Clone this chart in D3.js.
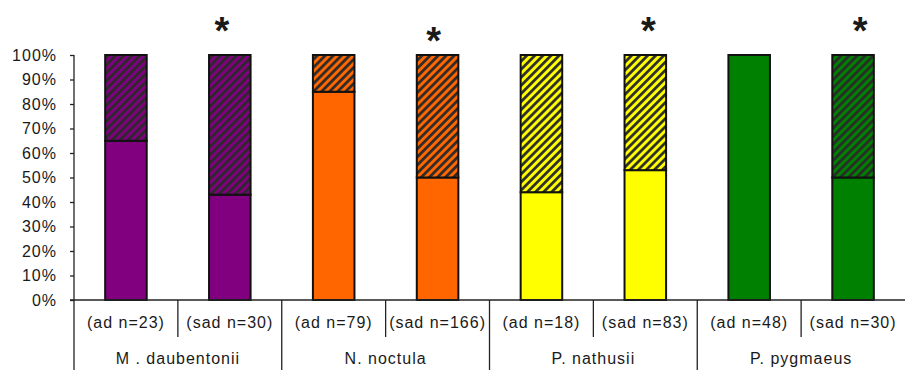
<!DOCTYPE html>
<html>
<head>
<meta charset="utf-8">
<script src="https://cdn.jsdelivr.net/npm/d3@7"></script>
<style>
  body { margin: 0; background: #fff; }
  svg text { font-family: "Liberation Sans", Arial, sans-serif; fill: #1a1a1a; }
</style>
</head>
<body>
<div id="chart"></div>
<script>
// values
var species = ["M . daubentonii", "N. noctula", "P. nathusii", "P. pygmaeus"];
var barLabels = ["(ad n=23)", "(sad n=30)", "(ad n=79)", "(sad n=166)",
                 "(ad n=18)", "(sad n=83)", "(ad n=48)", "(sad n=30)"];
var solidPct = [65, 43, 85, 50, 44, 53, 100, 50];
var hatchPct = [35, 57, 15, 50, 56, 47, 0, 50];
var speciesColors = ["#800080", "#ff6600", "#ffff00", "#008000"];
var significant = [false, true, false, true, false, true, false, true];
var yTicks = [0, 10, 20, 30, 40, 50, 60, 70, 80, 90, 100];

var W = 905, H = 370;
var margin = {top: 55, right: 0, bottom: 70, left: 74};

var svg = d3.select("#chart").append("svg")
  .attr("width", W).attr("height", H);

// band domain uses the bar index, two labels are the same text
var x = d3.scaleBand().domain(d3.range(barLabels.length)).range([margin.left, W]).padding(0);
var y = d3.scaleLinear().domain([0, 100]).range([H - margin.bottom, margin.top]);
var barW = x.bandwidth() * 0.4;

var rows = barLabels.map(function(l, i) {
  return {label: l, i: i, solid: solidPct[i], hatch: hatchPct[i], color: speciesColors[Math.floor(i / 2)]};
});

// hatch patterns, one per species colour
var defs = svg.append("defs");
speciesColors.forEach(function(c, k) {
  var p = defs.append("pattern")
    .attr("id", "hatch" + k)
    .attr("patternUnits", "userSpaceOnUse")
    .attr("width", 5.7).attr("height", 5.7)
    .attr("patternTransform", "rotate(45)");
  p.append("rect").attr("width", 5.7).attr("height", 5.7).attr("fill", c);
  p.append("line").attr("x1", 1.4).attr("x2", 1.4).attr("y1", 0).attr("y2", 5.7)
    .attr("stroke", "#2a2a2a").attr("stroke-width", 2.7);
});

// stacked bars
var stack = d3.stack().keys(["solid", "hatch"]);
var series = stack(rows);

var layers = svg.selectAll("g.layer").data(series).enter()
  .append("g").attr("class", "layer");

layers.selectAll("rect")
  .data(function(s) { return s.map(function(d) { d.key = s.key; return d; }); })
  .enter().append("rect")
  .filter(function(d) { return d[1] - d[0] > 0; })
  .attr("x", function(d) { return x(d.data.i) + (x.bandwidth() - barW) / 2; })
  .attr("y", function(d) { return y(d[1]); })
  .attr("width", barW)
  .attr("height", function(d) { return y(d[0]) - y(d[1]); })
  .attr("fill", function(d) {
    return d.key == "solid" ? d.data.color : "url(#hatch" + Math.floor(d.data.i / 2) + ")";
  })
  .attr("stroke", "#111")
  .attr("stroke-width", 2);

// y axis
var yAxis = svg.append("g")
  .attr("transform", "translate(" + margin.left + ",0)")
  .call(d3.axisLeft(y).tickValues(yTicks).tickSize(4).tickPadding(13)
        .tickFormat(function(d) { return d + "%"; }));
yAxis.select(".domain").remove();
yAxis.selectAll(".tick line").attr("stroke", "#222").attr("stroke-width", 1.3);
yAxis.selectAll("text").style("font-size", "16px").style("letter-spacing", "1px").attr("fill", "#1a1a1a");

// axis lines
var base = y(0);
svg.append("line").attr("x1", margin.left).attr("x2", margin.left)
  .attr("y1", margin.top).attr("y2", H).attr("stroke", "#222").attr("stroke-width", 1.3);
svg.append("line").attr("x1", margin.left - 4).attr("x2", W)
  .attr("y1", base).attr("y2", base).attr("stroke", "#222").attr("stroke-width", 1.3);

// category separators
barLabels.forEach(function(l, i) {
  if (i == 0) return;
  var xx = x(i);
  svg.append("line").attr("x1", xx).attr("x2", xx)
    .attr("y1", base).attr("y2", i % 2 == 0 ? H : base + 37)
    .attr("stroke", "#222").attr("stroke-width", 1.3);
});

// bar labels
svg.selectAll("text.bar-label").data(barLabels).enter()
  .append("text").attr("class", "bar-label")
  .attr("x", function(d, i) { return x(i) + x.bandwidth() / 2; })
  .attr("y", base + 28)
  .attr("text-anchor", "middle")
  .style("font-size", "16px").style("letter-spacing", "1px")
  .text(function(d) { return d; });

// species labels
svg.selectAll("text.species").data(species).enter()
  .append("text").attr("class", "species")
  .attr("x", function(d, k) { return x(k * 2 + 1); })
  .attr("y", base + 64)
  .attr("text-anchor", "middle")
  .style("font-size", "16px").style("letter-spacing", "1px")
  .text(function(d) { return d; });

// asterisks (hand-placed text boxes in the original)
var starShift = [[0, 0], [-8, 0], [0, 0], [-4, 10], [0, 0], [3, 0], [0, 0], [7, 0]];
rows.filter(function(d) { return significant[d.i]; }).forEach(function(d) {
  svg.append("text")
    .attr("x", x(d.i) + x.bandwidth() / 2 + starShift[d.i][0])
    .attr("y", 44 + starShift[d.i][1])
    .attr("text-anchor", "middle")
    .style("font-size", "38px").style("font-weight", "bold")
    .text("*");
});
</script>
</body>
</html>
